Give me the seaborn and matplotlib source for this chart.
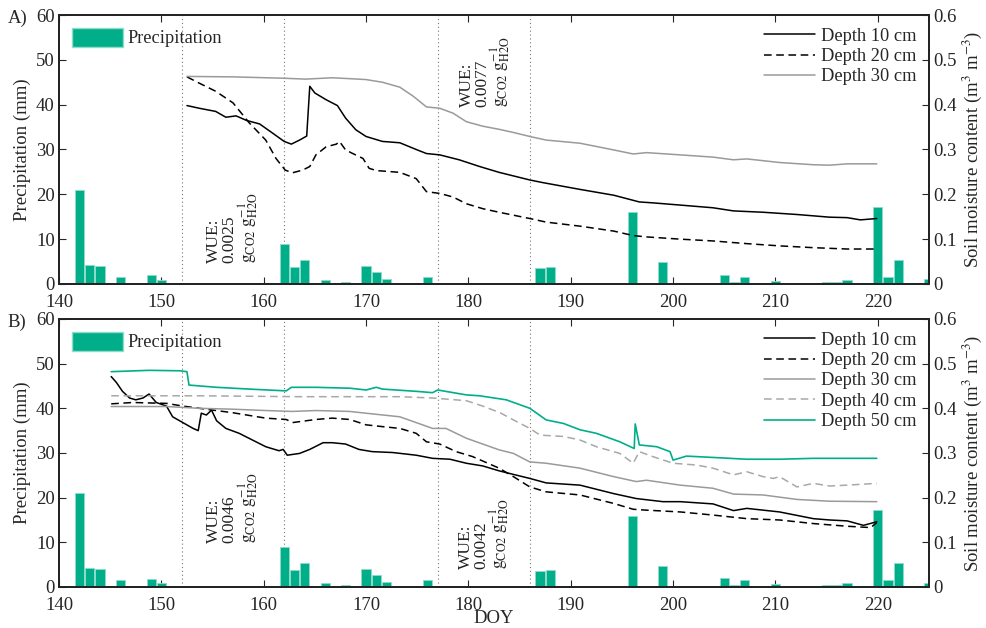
import numpy as np
import pandas as pd
import matplotlib
matplotlib.use("Agg")
import matplotlib.pyplot as plt
import seaborn as sns
from matplotlib.ticker import FuncFormatter
from matplotlib.patches import Patch

# ---------------- data ----------------
precip_day = [142, 143, 144, 146, 149, 150, 162, 163, 164, 165, 166, 168, 170, 171, 172, 176,
              187, 188, 196, 199, 200, 205, 206, 207, 210, 215, 216, 217, 220, 221, 222, 225]
precip_mm = [21.0, 4.3, 4.0, 1.6, 1.9, 0.8, 9.0, 3.7, 5.3, 0.3, 0.9, 0.4, 4.0, 2.6, 1.1, 1.5,
             3.6, 3.8, 16.0, 4.8, 0.3, 2.1, 0.45, 1.5, 0.7, 0.5, 0.35, 0.8, 17.2, 1.6, 5.3, 1.0]

# Panel A
a10_day = [152.5, 153.7, 155.3, 156.3, 157.3, 158.3, 159.6, 160.9, 162.0, 162.7, 163.5, 164.2,
           164.5, 165.0, 166.1, 167.2, 168.0, 169.0, 170.0, 171.6, 173.3, 174.9, 175.9, 177.2,
           179.1, 181.1, 183.0, 186.0, 187.3, 190.9, 194.2, 196.7, 198.0, 200.7, 203.9, 205.9,
           208.8, 212.1, 215.3, 217.0, 218.3, 219.9]
a10_val = [0.398, 0.392, 0.385, 0.372, 0.375, 0.365, 0.357, 0.336, 0.318, 0.312, 0.321, 0.330,
           0.441, 0.426, 0.411, 0.398, 0.370, 0.344, 0.329, 0.318, 0.315, 0.300, 0.291, 0.288,
           0.277, 0.262, 0.249, 0.232, 0.226, 0.211, 0.198, 0.183, 0.181, 0.176, 0.170, 0.163,
           0.160, 0.155, 0.149, 0.148, 0.143, 0.146]

a20_day = [152.5, 153.7, 155.3, 157.0, 158.6, 160.2, 161.2, 162.1, 162.8, 163.8, 164.5, 165.1,
           166.1, 167.1, 167.4, 168.0, 168.7, 169.7, 170.3, 171.0, 173.3, 174.9, 175.9, 177.2,
           178.5, 179.8, 181.4, 183.0, 186.0, 187.6, 190.9, 194.2, 196.1, 197.4, 200.7, 203.9,
           207.2, 210.4, 213.7, 217.0, 219.9]
a20_val = [0.462, 0.448, 0.430, 0.404, 0.359, 0.321, 0.280, 0.254, 0.248, 0.254, 0.262, 0.288,
           0.306, 0.312, 0.318, 0.299, 0.291, 0.280, 0.258, 0.253, 0.249, 0.235, 0.206, 0.202,
           0.194, 0.179, 0.168, 0.160, 0.146, 0.138, 0.129, 0.118, 0.108, 0.105, 0.100, 0.096,
           0.090, 0.085, 0.081, 0.078, 0.078]

a30_day = [152.5, 157.0, 161.9, 164.1, 166.7, 168.4, 170.0, 171.6, 173.3, 174.6, 175.9, 177.2,
           178.5, 179.8, 181.4, 183.0, 184.4, 186.0, 187.6, 190.9, 194.2, 196.1, 197.4, 200.7,
           203.9, 205.9, 207.2, 210.4, 213.7, 215.3, 217.0, 219.9]
a30_val = [0.463, 0.462, 0.459, 0.457, 0.460, 0.458, 0.456, 0.450, 0.439, 0.419, 0.395, 0.392,
           0.381, 0.362, 0.352, 0.345, 0.338, 0.329, 0.321, 0.314, 0.299, 0.290, 0.293, 0.288,
           0.283, 0.277, 0.279, 0.271, 0.266, 0.265, 0.268, 0.268]

# Panel B
b10_day = [145.1, 145.6, 146.2, 146.9, 147.5, 148.2, 148.8, 149.5, 150.5, 151.1, 152.1, 153.1,
           153.6, 153.9, 154.4, 154.9, 155.4, 156.3, 157.6, 158.9, 160.2, 161.5, 161.9, 162.3,
           163.5, 164.5, 165.8, 166.7, 168.0, 169.3, 170.6, 172.6, 174.9, 176.5, 178.2, 179.8,
           181.4, 183.0, 184.4, 186.0, 187.6, 190.9, 194.2, 196.4, 199.0, 200.7, 203.9, 205.9,
           207.2, 210.4, 213.7, 215.3, 217.0, 218.6, 219.9]
b10_val = [0.471, 0.458, 0.438, 0.423, 0.419, 0.423, 0.432, 0.413, 0.405, 0.381, 0.368, 0.355,
           0.350, 0.389, 0.385, 0.396, 0.372, 0.355, 0.344, 0.329, 0.314, 0.305, 0.308, 0.295,
           0.299, 0.308, 0.323, 0.323, 0.320, 0.308, 0.303, 0.301, 0.295, 0.288, 0.286, 0.277,
           0.271, 0.260, 0.252, 0.243, 0.233, 0.228, 0.209, 0.198, 0.191, 0.191, 0.186, 0.171,
           0.176, 0.168, 0.153, 0.150, 0.148, 0.138, 0.146]

b20_day = [145.1, 147.2, 150.5, 152.1, 153.7, 157.0, 160.2, 162.2, 162.8, 165.1, 166.7, 168.4,
           170.0, 171.6, 173.3, 174.9, 175.9, 177.2, 178.8, 180.4, 182.1, 183.0, 184.4, 186.0,
           187.6, 190.9, 194.2, 196.1, 197.4, 200.7, 203.9, 207.2, 210.4, 213.7, 217.0, 219.3,
           219.9]
b20_val = [0.410, 0.413, 0.411, 0.405, 0.400, 0.390, 0.378, 0.375, 0.368, 0.375, 0.378, 0.375,
           0.363, 0.359, 0.355, 0.344, 0.325, 0.320, 0.303, 0.292, 0.275, 0.266, 0.247, 0.224,
           0.213, 0.206, 0.187, 0.174, 0.172, 0.168, 0.161, 0.153, 0.150, 0.142, 0.136, 0.133,
           0.144]

b30_day = [145.1, 150.5, 153.7, 157.0, 160.2, 162.8, 165.1, 168.4, 170.0, 173.3, 174.9, 176.5,
           177.8, 179.8, 181.4, 183.0, 184.4, 186.0, 187.6, 190.9, 194.2, 196.4, 197.4, 200.7,
           203.9, 205.9, 208.8, 212.1, 215.3, 219.9]
b30_val = [0.404, 0.404, 0.400, 0.398, 0.395, 0.393, 0.395, 0.393, 0.389, 0.381, 0.368, 0.355,
           0.355, 0.333, 0.320, 0.307, 0.299, 0.280, 0.277, 0.266, 0.247, 0.236, 0.239, 0.228,
           0.221, 0.208, 0.206, 0.196, 0.192, 0.191]

b40_day = [145.1, 153.7, 163.5, 173.3, 176.5, 178.2, 179.8, 181.4, 183.1, 184.4, 186.0, 187.0,
           189.3, 190.9, 192.5, 194.8, 196.1, 196.7, 198.0, 200.0, 202.3, 203.9, 205.9, 207.2,
           208.8, 209.8, 210.4, 212.1, 213.7, 215.3, 217.0, 219.9]
b40_val = [0.428, 0.428, 0.426, 0.426, 0.423, 0.420, 0.417, 0.405, 0.390, 0.374, 0.355, 0.340,
           0.337, 0.329, 0.314, 0.299, 0.277, 0.303, 0.292, 0.277, 0.273, 0.266, 0.251, 0.258,
           0.247, 0.243, 0.247, 0.224, 0.232, 0.226, 0.228, 0.232]

b50_day = [145.1, 148.8, 151.8, 152.5, 152.7, 155.4, 158.6, 162.2, 162.7, 163.5, 165.1, 168.4,
           170.0, 171.0, 171.6, 174.9, 176.5, 177.0, 179.8, 181.1, 183.7, 186.0, 187.6, 189.3,
           190.9, 192.5, 194.8, 196.2, 196.3, 196.7, 198.4, 199.7, 200.0, 201.3, 203.9, 207.2,
           210.4, 213.7, 217.0, 219.9]
b50_val = [0.482, 0.485, 0.484, 0.482, 0.452, 0.447, 0.443, 0.439, 0.447, 0.447, 0.447, 0.445,
           0.441, 0.447, 0.443, 0.438, 0.435, 0.441, 0.430, 0.428, 0.419, 0.400, 0.374, 0.366,
           0.352, 0.344, 0.325, 0.310, 0.365, 0.318, 0.314, 0.303, 0.284, 0.293, 0.290, 0.286,
           0.286, 0.288, 0.288, 0.288]

wue_lines = [152, 162, 177, 186]
panel_labels = ["A)", "B)"]
wue_a = [("0.0025", 157.0, 12.6), ("0.0077", 181.7, 47.3)]
wue_b = [("0.0046", 157.0, 17.9), ("0.0042", 181.6, 11.9)]

depth_labels = ["Depth 10 cm", "Depth 20 cm", "Depth 30 cm", "Depth 40 cm", "Depth 50 cm"]

# ---------------- style ----------------
sns.set_style("white")
plt.rcParams["font.family"] = ["Liberation Serif", "DejaVu Serif"]
plt.rcParams["mathtext.fontset"] = "stix"

TEAL = "#00AF8A"
GRAY = "#9a9a9a"
LGRAY = "#a8a8a8"
styles = [
    dict(color="black", ls="-", lw=1.1),
    dict(color="black", ls=(0, (5, 3)), lw=1.1),
    dict(color=GRAY, ls="-", lw=1.1),
    dict(color=LGRAY, ls=(0, (5, 3)), lw=1.1),
    dict(color=TEAL, ls="-", lw=1.2),
]
FS = 13.5
LFS = 13.2

fig = plt.figure(figsize=(9.87, 6.28), dpi=100)
rects = [[0.0598, 0.5478, 0.8814, 0.4283], [0.0598, 0.0653, 0.8814, 0.4268]]

panels = [
    [(a10_day, a10_val), (a20_day, a20_val), (a30_day, a30_val)],
    [(b10_day, b10_val), (b20_day, b20_val), (b30_day, b30_val), (b40_day, b40_val), (b50_day, b50_val)],
]
wues = [wue_a, wue_b]

pdf = pd.DataFrame({"day": precip_day, "mm": precip_mm})

for i, rect in enumerate(rects):
    ax = fig.add_axes(rect)
    ax.bar(pdf["day"], pdf["mm"], width=0.9, color=TEAL, edgecolor="#8fdcc9", linewidth=0.6, zorder=2)
    for d in wue_lines:
        ax.axvline(d, color="#777777", ls=(0, (1, 2.5)), lw=0.8, zorder=1)
    ax.set_xlim(140, 225)
    ax.set_ylim(0, 60)
    ax.set_xticks(np.arange(140, 221, 10))
    ax.set_yticks(np.arange(0, 61, 10))
    ax.tick_params(axis="x", direction="in", top=True, bottom=True, length=5, labelsize=FS, pad=7)
    ax.tick_params(axis="y", direction="in", left=True, right=False, length=5, labelsize=FS, pad=3)
    ax.set_ylabel("Precipitation (mm)", fontsize=FS, labelpad=4)
    for s in ax.spines.values():
        s.set_linewidth(1.3)
        s.set_color("black")
    for val, xd, ym in wues[i]:
        ax.text(xd, ym, "WUE:\n" + val + "\n" + r"$\mathrm{g_{CO2}\ g_{H2O}^{-1}}$",
                rotation=90, ha="center", va="center", multialignment="left",
                fontsize=12.5, linespacing=0.9, color="#222222", zorder=5)
    ax.legend(handles=[Patch(facecolor=TEAL, edgecolor="#8fdcc9")], labels=["Precipitation"],
              loc="upper left", frameon=False, fontsize=LFS, handlelength=2.8, handleheight=1.2,
              borderaxespad=0.3, handletextpad=0.25, bbox_to_anchor=(0.0, 1.0))

    ax2 = ax.twinx()
    for j, (dd, vv) in enumerate(panels[i]):
        df = pd.DataFrame({"day": dd, "val": vv})
        st = styles[j]
        sns.lineplot(data=df, x="day", y="val", ax=ax2, color=st["color"], linestyle=st["ls"],
                     linewidth=st["lw"], estimator=None, sort=False, label=depth_labels[j])
    ax2.set_xlim(140, 225)
    ax2.set_ylim(0, 0.6)
    ax2.set_yticks(np.arange(0, 0.61, 0.1))
    ax2.yaxis.set_major_formatter(FuncFormatter(lambda v, p: "0" if abs(v) < 1e-9 else f"{v:.1f}"))
    ax2.tick_params(axis="y", direction="in", right=True, length=5, labelsize=FS, pad=3)
    ax2.set_ylabel(r"Soil moisture content (m$^3$ m$^{-3}$)", fontsize=FS, labelpad=3)
    ax2.set_xlabel("")
    for s in ax2.spines.values():
        s.set_linewidth(1.3)
    ax2.legend(loc="upper right", frameon=False, fontsize=LFS, handlelength=2.8,
               borderaxespad=0.3, handletextpad=0.3, labelspacing=0.18)
    if i == 1:
        ax.set_xlabel("DOY", fontsize=FS, labelpad=-3)
    fig.text(0.008, rect[1] + rect[3] - 0.005, panel_labels[i], fontsize=FS, va="center", ha="left")

fig.savefig("out.png", dpi=100)
